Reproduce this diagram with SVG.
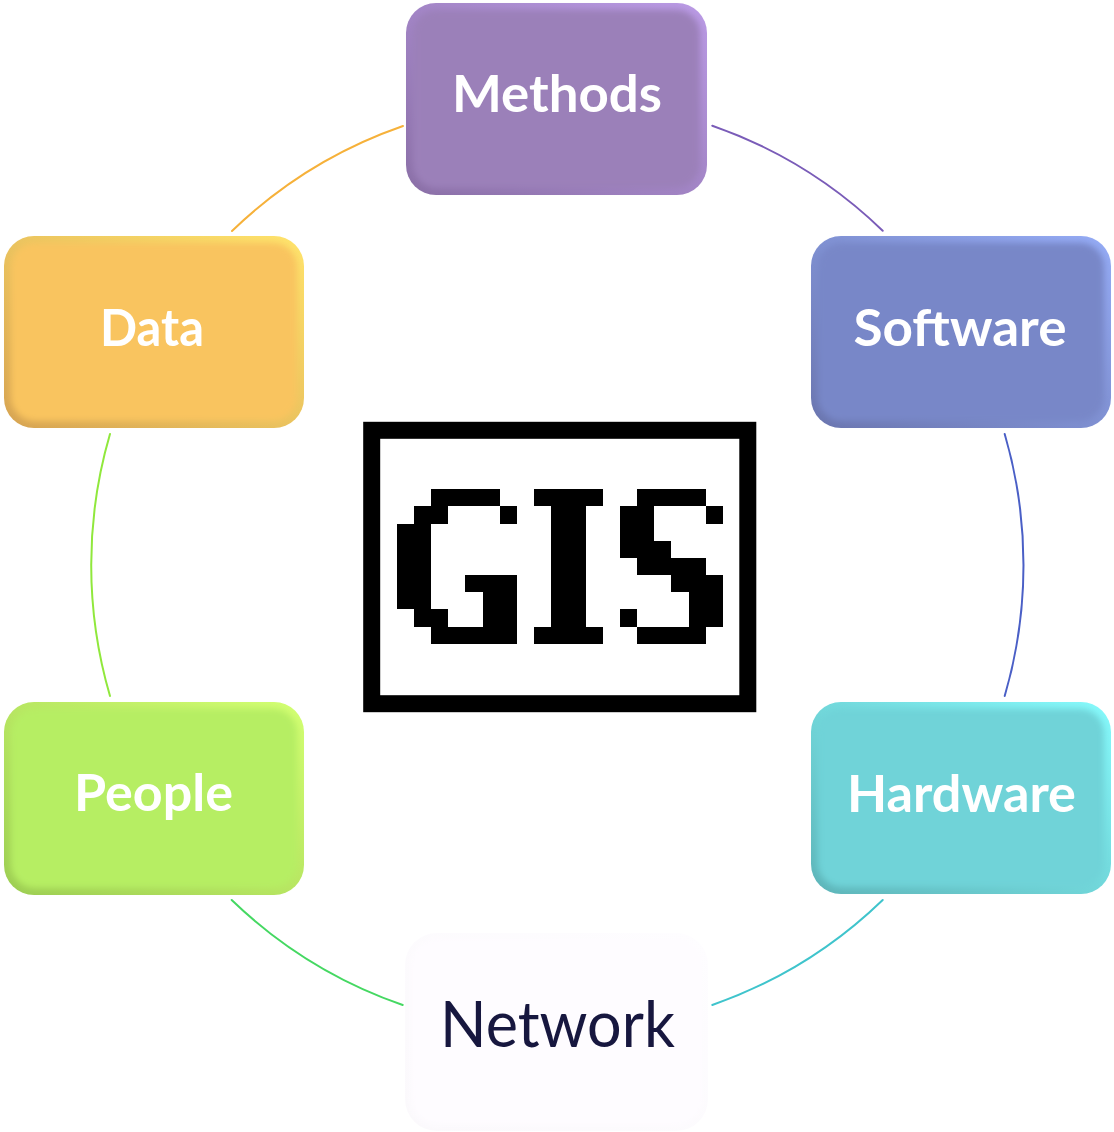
<svg xmlns="http://www.w3.org/2000/svg" width="1114" height="1132" viewBox="0 0 1114 1132">
<style>
  .lbl { font-family: Lato, "Liberation Sans", sans-serif; font-weight: 700; font-size: 52px; fill: #ffffff; text-anchor: middle; }
  .net { font-family: Lato, "Liberation Sans", sans-serif; font-weight: 400; font-size: 63px; fill: #17173f; text-anchor: middle; }
  .arc { fill: none; stroke-width: 2; stroke-linecap: round; }
  .inner { filter: url(#soft); }
</style>
<defs>
  <filter id="soft" x="-10%" y="-10%" width="120%" height="120%">
    <feGaussianBlur stdDeviation="3"/>
  </filter>
  <linearGradient id="gM" x1="0" y1="1" x2="1" y2="0"><stop offset="0" stop-color="#8a6fa6"/><stop offset="1" stop-color="#bb9be6"/></linearGradient>
  <linearGradient id="gD" x1="0" y1="1" x2="1" y2="0"><stop offset="0" stop-color="#d6a352"/><stop offset="1" stop-color="#ffe46c"/></linearGradient>
  <linearGradient id="gS" x1="0" y1="1" x2="1" y2="0"><stop offset="0" stop-color="#6a75ae"/><stop offset="1" stop-color="#95acf6"/></linearGradient>
  <linearGradient id="gP" x1="0" y1="1" x2="1" y2="0"><stop offset="0" stop-color="#9ccd52"/><stop offset="1" stop-color="#d3ff72"/></linearGradient>
  <linearGradient id="gH" x1="0" y1="1" x2="1" y2="0"><stop offset="0" stop-color="#5db4b8"/><stop offset="1" stop-color="#86fafc"/></linearGradient>
  <linearGradient id="gN" x1="0" y1="1" x2="1" y2="0"><stop offset="0" stop-color="#fbf9fc"/><stop offset="1" stop-color="#fefdff"/></linearGradient>
</defs>
<rect width="1114" height="1132" fill="#ffffff"/>

<g id="connectors">
  <path class="arc" stroke="#7a5cb8" d="M 712.3 125.7 A 466 466 0 0 1 882.7 230.7"/>
  <path class="arc" stroke="#4a5fc6" d="M 1004.7 434 A 466 466 0 0 1 1004.7 696"/>
  <path class="arc" stroke="#3fc4cc" d="M 882.7 900 A 466 466 0 0 1 712.3 1005"/>
  <path class="arc" stroke="#45d862" d="M 402.7 1005 A 466 466 0 0 1 231.7 900"/>
  <path class="arc" stroke="#90e83c" d="M 110 696 A 466 466 0 0 1 110 434"/>
  <path class="arc" stroke="#f6b13a" d="M 232 231 A 466 466 0 0 1 403 126"/>
</g>

<g id="node-methods">
  <rect x="406" y="3" width="301" height="192" rx="30" fill="url(#gM)"/>
  <rect class="inner" x="413" y="10" width="287" height="178" rx="24" fill="#9b80b9"/>
  <text class="lbl" x="557" y="111.5" textLength="210" lengthAdjust="spacingAndGlyphs">Methods</text>
</g>

<g id="node-data">
  <rect x="4" y="236" width="300" height="192" rx="30" fill="url(#gD)"/>
  <rect class="inner" x="11" y="243" width="286" height="178" rx="24" fill="#f9c45f"/>
  <text class="lbl" x="152" y="346" textLength="104" lengthAdjust="spacingAndGlyphs">Data</text>
</g>

<g id="node-software">
  <rect x="811" y="236" width="300" height="192" rx="30" fill="url(#gS)"/>
  <rect class="inner" x="818" y="243" width="286" height="178" rx="24" fill="#7887c8"/>
  <text class="lbl" x="960" y="346" textLength="213" lengthAdjust="spacingAndGlyphs">Software</text>
</g>

<g id="node-people">
  <rect x="4" y="702" width="300" height="193" rx="30" fill="url(#gP)"/>
  <rect class="inner" x="11" y="709" width="286" height="179" rx="24" fill="#b6ee64"/>
  <text class="lbl" x="153.5" y="811" textLength="159" lengthAdjust="spacingAndGlyphs">People</text>
</g>

<g id="node-hardware">
  <rect x="811" y="702" width="300" height="192" rx="30" fill="url(#gH)"/>
  <rect class="inner" x="818" y="709" width="286" height="178" rx="24" fill="#70d3d8"/>
  <text class="lbl" x="961.5" y="811.5" textLength="229" lengthAdjust="spacingAndGlyphs">Hardware</text>
</g>

<g id="node-network">
  <rect x="405" y="933" width="303" height="198" rx="32" fill="url(#gN)"/>
  <rect class="inner" x="411" y="939" width="291" height="186" rx="26" fill="#fefcff"/>
  <text class="net" x="557.5" y="1046.5" textLength="235" lengthAdjust="spacingAndGlyphs">Network</text>
</g>

<g id="node-gis">
  <rect x="371.7" y="430.3" width="376.1" height="273.4" fill="#ffffff" stroke="#000000" stroke-width="17"/>
  <g transform="translate(396.7 489.3) scale(17.17)" fill="#000000" shape-rendering="crispEdges">
    <rect x="2" y="0" width="4" height="1"/>
    <rect x="1" y="1" width="2" height="1"/>
    <rect x="6" y="1" width="1" height="1"/>
    <rect x="0" y="2" width="2" height="5"/>
    <rect x="4" y="5" width="3" height="1"/>
    <rect x="5" y="6" width="2" height="2"/>
    <rect x="1" y="7" width="2" height="1"/>
    <rect x="2" y="8" width="5" height="1"/>
    <rect x="8" y="0" width="4" height="1"/>
    <rect x="9" y="1" width="2" height="7"/>
    <rect x="8" y="8" width="4" height="1"/>
    <rect x="14" y="0" width="4" height="1"/>
    <rect x="13" y="1" width="2" height="3"/>
    <rect x="18" y="1" width="1" height="1"/>
    <rect x="15" y="3" width="1" height="1"/>
    <rect x="14" y="4" width="4" height="1"/>
    <rect x="16" y="5" width="3" height="1"/>
    <rect x="17" y="6" width="2" height="2"/>
    <rect x="13" y="7" width="1" height="1"/>
    <rect x="14" y="8" width="4" height="1"/>
  </g>
</g>
</svg>
